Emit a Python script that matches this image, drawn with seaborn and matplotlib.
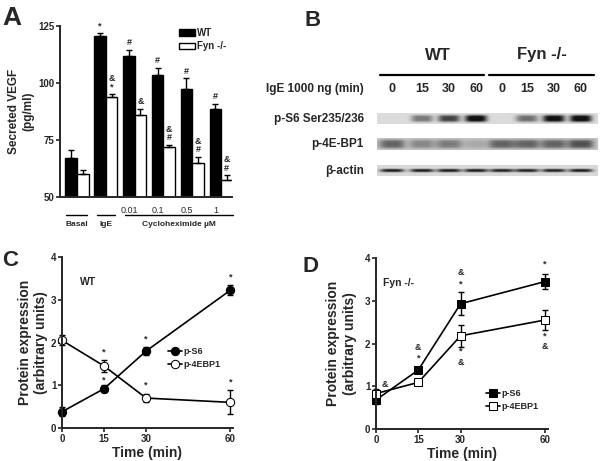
import numpy as np
import pandas as pd
import matplotlib
matplotlib.use('Agg')
import matplotlib.pyplot as plt
import seaborn as sns

# ---- data ----
groups = ['Basal', 'IgE', '0.01', '0.1', '0.5', '1']
vegf_wt = [67, 120.5, 112, 103.5, 97.5, 88.5]
vegf_wt_err = [3.5, 1.5, 2.5, 3.0, 4.5, 2.5]
vegf_fyn = [60, 94, 86, 72, 65, 57.5]
vegf_fyn_err = [2.0, 1.0, 2.5, 1.0, 2.5, 2.0]
wt_marks = [[], ['*'], ['#'], ['#'], ['#'], ['#']]
fyn_marks = [[], ['*', '&'], ['&'], ['#', '&'], ['#', '&'], ['#', '&']]

time_min = [0, 15, 30, 60]
wt_s6 = [0.38, 0.92, 1.80, 3.22]
wt_s6_err = [0.10, 0.08, 0.10, 0.12]
wt_4e = [2.05, 1.45, 0.70, 0.60]
wt_4e_err = [0.12, 0.13, 0.10, 0.28]
fyn_s6 = [0.68, 1.38, 2.93, 3.45]
fyn_s6_err = [0.10, 0.05, 0.27, 0.18]
fyn_4e = [0.83, 1.09, 2.18, 2.55]
fyn_4e_err = [0.10, 0.05, 0.26, 0.23]

# significance marks (x, y, symbol)
c_marks = [(15, 1.12, '*'), (15, 1.78, '*'), (30, 2.08, '*'), (30, 1.0, '*'),
           (60, 3.52, '*'), (60, 1.07, '*')]
d_marks = [(3, 1.04, '&'), (15, 1.66, '*'), (15, 1.9, '&'), (30, 3.40, '*'),
           (30, 3.66, '&'), (30, 1.82, '*'), (30, 1.56, '&'), (60, 3.85, '*'),
           (60, 2.18, '*'), (60, 1.93, '&')]

# western blot: relative band intensity per lane (WT 0,15,30,60 | Fyn 0,15,30,60)
blot_rows = ['p-S6 Ser235/236', 'p-4E-BP1', 'β-actin']
band_s6 = [0.0, 0.45, 0.7, 1.0, 0.0, 0.5, 0.97, 1.0]
band_4e = [0.5, 0.32, 0.38, 0.15, 0.5, 0.5, 0.5, 0.6]
band_actin = [0.85, 0.85, 0.85, 0.85, 0.82, 0.82, 0.82, 0.85]
lane_labels = ['0', '15', '30', '60', '0', '15', '30', '60']

sns.set_style('ticks')
plt.rcParams['font.family'] = ['Liberation Sans', 'DejaVu Sans']
plt.rcParams['font.weight'] = 'bold'
plt.rcParams['axes.linewidth'] = 1.4

W, H = 600, 461
fig = plt.figure(figsize=(6, 4.61), dpi=100)

def ax_px(l, t, r, b):
    return fig.add_axes([l / W, 1 - b / H, (r - l) / W, (b - t) / H])

# overlay in pixel coords for labels and blot
ov = fig.add_axes([0, 0, 1, 1])
ov.set_xlim(0, W)
ov.set_ylim(H, 0)
ov.axis('off')

for lab, (x, y, fs) in zip('ABCD', [(2, 18, 19), (305, 21, 16), (2, 260, 16), (302, 266, 16)]):
    ov.text(x, y, lab, fontsize=fs, fontweight='bold', va='center')

def style_axis(ax):
    sns.despine(ax=ax)
    ax.tick_params(direction='out', length=3, width=1.2, labelsize=7, pad=1)
    for t in ax.get_xticklabels() + ax.get_yticklabels():
        t.set_fontweight('bold')

# ---- panel A ----
axA = ax_px(60, 26, 232, 197)
df = pd.DataFrame({'group': groups * 2,
                   'value': vegf_wt + vegf_fyn,
                   'geno': ['WT'] * 6 + ['Fyn -/-'] * 6})
sns.barplot(data=df, x='group', y='value', hue='geno', order=groups,
            palette={'WT': 'black', 'Fyn -/-': 'white'}, edgecolor='black',
            linewidth=1.0, errorbar=None, width=0.8, ax=axA)
xpos = np.arange(len(groups))
for vals, errs, off, marks in [(vegf_wt, vegf_wt_err, -0.2, wt_marks),
                               (vegf_fyn, vegf_fyn_err, 0.2, fyn_marks)]:
    axA.errorbar(xpos + off, vals, yerr=[np.zeros(6), errs], fmt='none',
                 ecolor='black', elinewidth=1.0, capsize=2.5, capthick=1.0)
    for i in range(6):
        y0 = vals[i] + errs[i] + 1.2
        for k, m in enumerate(marks[i]):
            axA.text(xpos[i] + off, y0 + k * 3.6, m, ha='center', va='bottom',
                     fontsize=6.5, fontweight='bold')
axA.set_ylim(50, 125)
axA.set_yticks([50, 75, 100, 125])
axA.set_xlim(-0.59, 5.38)
axA.set_xticks([])
axA.set_xlabel('')
axA.set_ylabel('Secreted VEGF\n(pg/ml)', fontsize=8.5, fontweight='bold', labelpad=3)
style_axis(axA)
axA.legend(loc='upper right', bbox_to_anchor=(1.02, 1.04), frameon=False,
           handlelength=1.7, handleheight=0.7, handletextpad=0.2,
           labelspacing=0.35, prop={'weight': 'bold', 'size': 7})

for lab, x in zip(groups[2:], [129, 158, 187, 216]):
    ov.text(x, 210, lab, ha='center', va='center', fontsize=6.5, fontweight='normal')
for x0, x1, lab in [(66, 87, 'Basal'), (97, 115, 'IgE'), (125, 233, 'Cycloheximide µM')]:
    ov.plot([x0, x1], [215, 215], color='black', lw=1.0)
    ov.text((x0 + x1) / 2, 224, lab, ha='center', va='center', fontsize=6)

# ---- panel B (blot) ----
lanes = np.array([392, 422, 449, 476, 502, 527, 554, 581])
ov.text(438, 55, 'WT', ha='center', va='center', fontsize=12)
ov.text(542, 55, 'Fyn -/-', ha='center', va='center', fontsize=12)
ov.plot([380, 484], [75, 75], color='black', lw=1.6)
ov.plot([489, 594], [75, 75], color='black', lw=1.6)
ov.text(364, 89, 'IgE 1000 ng (min)', ha='right', va='center', fontsize=8.5)
for x, lab in zip(lanes, lane_labels):
    ov.text(x, 89, lab, ha='center', va='center', fontsize=9)

strips = [(band_s6, 113, 124, 0.86, 11, 3.6), (band_4e, 138, 150, 0.78, 13, 4.5),
          (band_actin, 165, 176, 0.85, 12, 1.7)]
xs = np.linspace(377, 598, 442)
for (bands, y0, y1, bg, bw, bh), lab in zip(strips, blot_rows):
    ys = np.linspace(y0, y1, 24)
    X, Y = np.meshgrid(xs, ys)
    dark = np.zeros_like(X)
    yc = (y0 + y1) / 2
    for lx, inten in zip(lanes, bands):
        dark += inten * np.exp(-((X - lx) / bw) ** 4 - ((Y - yc) / bh) ** 4)
    img = bg * (1 - np.clip(dark, 0, 0.92))
    ov.imshow(img, cmap='gray', vmin=0, vmax=1, extent=(377, 598, y1, y0),
              aspect='auto', interpolation='bilinear')
    ov.text(364, yc, lab, ha='right', va='center', fontsize=8.5)
ov.set_xlim(0, W)
ov.set_ylim(H, 0)

# ---- panels C and D ----
def time_panel(ax, s6, s6e, e4, e4e, marker, marks, title, tx, leg_anchor, lpad):
    d = pd.DataFrame({'t': time_min, 's6': s6, 'e4': e4})
    sns.lineplot(data=d, x='t', y='s6', color='black', marker=marker, ms=6,
                 mfc='black', mec='black', lw=1.2, label='p-S6', ax=ax, clip_on=False)
    sns.lineplot(data=d, x='t', y='e4', color='black', marker=marker, ms=6,
                 mfc='white', mec='black', lw=1.2, label='p-4EBP1', ax=ax, clip_on=False)
    ax.errorbar(time_min, s6, yerr=s6e, fmt='none', ecolor='black',
                elinewidth=1.0, capsize=2.5, clip_on=False, zorder=1)
    ax.errorbar(time_min, e4, yerr=e4e, fmt='none', ecolor='black',
                elinewidth=1.0, capsize=2.5, clip_on=False, zorder=1)
    for x, y, m in marks:
        ax.text(x, y, m, ha='center', va='center', fontsize=6.5, fontweight='bold')
    ax.text(tx, 3.42, title, ha='left', va='center', fontsize=7.5, fontweight='bold')
    ax.set_xlim(0, 61)
    ax.set_ylim(0, 4)
    ax.set_xticks(time_min)
    ax.set_yticks([0, 1, 2, 3, 4])
    ax.set_xlabel('Time (min)', fontsize=10, fontweight='bold', labelpad=2)
    ax.set_ylabel('Protein expression\n(arbitrary units)', fontsize=10,
                  fontweight='bold', labelpad=lpad)
    style_axis(ax)
    ax.legend(loc='center left', bbox_to_anchor=leg_anchor, frameon=False,
              handlelength=1.6, handletextpad=0.2, labelspacing=0.45,
              prop={'weight': 'bold', 'size': 6.5})

axC = ax_px(62, 257, 233, 428)
time_panel(axC, wt_s6, wt_s6_err, wt_4e, wt_4e_err, 'o', c_marks, 'WT', 6.5, (0.57, 0.41), 2)
axD = ax_px(376, 258, 548, 429)
time_panel(axD, fyn_s6, fyn_s6_err, fyn_4e, fyn_4e_err, 's', d_marks, 'Fyn -/-', 2.5, (0.59, 0.17), 6)

fig.savefig('out.png', dpi=100)
